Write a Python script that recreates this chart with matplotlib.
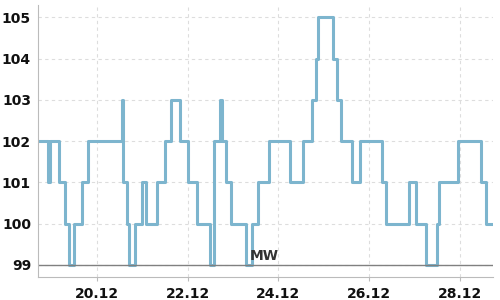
import datetime as dt
import matplotlib
matplotlib.use("Agg")
import matplotlib.pyplot as plt
import matplotlib.dates as mdates

# hours relative to 20.12 00:00 where the level changes
change_hours = [-31, -26, -25, -20, -17, -15, -12, -8, -5, 13, 14, 16, 17, 20,
                24, 26, 32, 36, 39, 44, 48, 53, 60, 62, 65, 66, 68, 71, 79, 82,
                85, 91, 102, 109, 114, 116, 117, 125, 127, 129, 135, 139, 151,
                153, 165, 169, 174, 180, 181, 191, 203, 206, 209]
levels = [102, 101, 102, 101, 100, 99, 100, 101, 102, 103, 101, 100, 99, 100,
          101, 100, 101, 102, 103, 102, 101, 100, 99, 102, 103, 102, 101, 100,
          99, 100, 101, 102, 101, 102, 103, 104, 105, 104, 103, 102, 101, 102,
          101, 100, 101, 100, 99, 100, 101, 102, 101, 100, 100]
threshold = 99
threshold_label = "MW"
tick_days = [20, 22, 24, 26, 28]

base = dt.datetime(2023, 12, 20)
times = [base + dt.timedelta(hours=h) for h in change_hours]

fig = plt.figure(figsize=(5, 3), dpi=100)
ax = fig.add_axes([0.076, 0.077, 0.91, 0.906])

line_color = "#7db5ce"
ax.plot(times, levels, drawstyle="steps-post", color=line_color, lw=2.2)

ax.axhline(threshold, color="#808080", lw=1)
ax.text(base + dt.timedelta(hours=81), threshold + 0.04, threshold_label,
        fontsize=10, fontweight="bold", color="#333333", va="bottom")

ax.set_xlim(base + dt.timedelta(hours=-31.2), base + dt.timedelta(hours=209.5))
ax.set_ylim(98.71, 105.3)
ax.set_yticks(range(99, 106))
ax.xaxis.set_major_locator(mdates.DayLocator(bymonthday=tick_days))
ax.xaxis.set_major_formatter(mdates.DateFormatter("%d.%m"))

ax.grid(True, color="#dddddd", linestyle=(0, (3, 3)), lw=0.8)
ax.set_axisbelow(True)
for side in ["top", "right"]:
    ax.spines[side].set_visible(False)
for side in ["left", "bottom"]:
    ax.spines[side].set_color("#bbbbbb")

ax.tick_params(axis="y", length=0, pad=5)
ax.tick_params(axis="x", length=3, color="#bbbbbb", pad=4)
for lbl in ax.get_xticklabels() + ax.get_yticklabels():
    lbl.set_fontsize(10)
    lbl.set_fontweight("bold")
    lbl.set_color("#111111")

fig.savefig("out.png", dpi=100)
